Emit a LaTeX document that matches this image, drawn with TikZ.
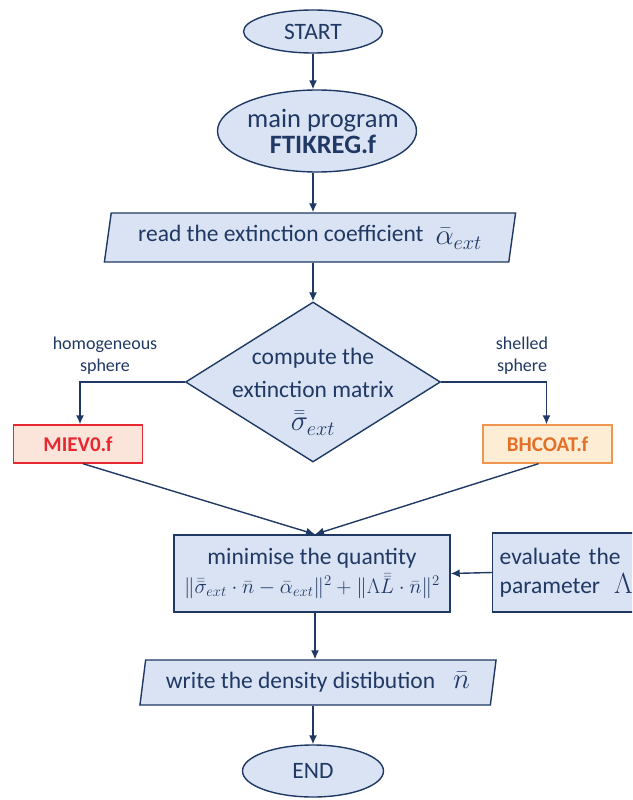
\documentclass[tikz,border=0pt]{standalone}
\usepackage{fix-cm}
\usepackage{amsmath}
\usepackage{fontspec}
\setmainfont{Carlito}
\usetikzlibrary{shapes.geometric,arrows.meta}
\definecolor{navy}{RGB}{31,56,100}
\definecolor{boxfill}{RGB}{218,227,243}
\definecolor{mieline}{RGB}{232,40,48}
\definecolor{miefill}{RGB}{251,228,218}
\definecolor{bhline}{RGB}{240,150,80}
\definecolor{bhfill}{RGB}{253,237,212}
\definecolor{bhtext}{RGB}{228,112,40}
\newcommand{\bigmath}[1]{{\fontsize{29}{33}\selectfont$#1$}}
\begin{document}
\begin{tikzpicture}[x=1pt,y=-1pt,
	every node/.style={text=navy, font=\fontsize{23.5}{31}\selectfont},
	term/.style={ellipse, draw=navy, fill=boxfill, line width=1.4pt, inner sep=0pt},
	iobox/.style={trapezium, trapezium left angle=76, trapezium right angle=104,
		trapezium stretches=true, draw=navy, fill=boxfill, line width=1.4pt, inner sep=0pt},
	procbox/.style={rectangle, draw=navy, fill=boxfill, line width=1.4pt, inner sep=0pt},
	flow/.style={navy, line width=1.4pt, -{Latex[length=9pt,width=8pt]}},
	side/.style={font=\fontsize{18}{22}\selectfont, align=center}]
	\useasboundingbox (0,0) rectangle (632,800);
	\clip (0,0) rectangle (632,800);
	% terminals and main program
	\node[term, minimum width=139, minimum height=43] (start) at (313,31.5) {START};
	\node[term, minimum width=199, minimum height=82] (main) at (317,131) {};
	\node[align=center, font=\fontsize{26.5}{26}\selectfont] (maintext) at (323,131)
		{main program\\\textbf{FTIKREG.f}};
	% input
	\node[iobox, minimum width=412, minimum height=49] (read) at (310,237.5)
		{read the extinction coefficient\hspace{12pt}\raisebox{-3pt}{\bigmath{\bar{\alpha}_{ext}}}};
	% decision
	\node[diamond, draw=navy, fill=boxfill, line width=1.4pt, inner sep=0pt,
		minimum width=255, minimum height=160] (comp) at (313,382) {};
	\node[align=center, font=\fontsize{23.5}{33}\selectfont] (comptext) at (313,392)
		{compute the\\extinction matrix\\\bigmath{\bar{\bar{\sigma}}_{ext}}};
	\node[side] (homo) at (105,356) {homogeneous\\sphere};
	\node[side] (shell) at (522,356) {shelled\\sphere};
	% subroutines
	\node[rectangle, draw=mieline, fill=miefill, line width=1.4pt, minimum width=129,
		minimum height=38, text=mieline, font=\fontsize{21}{24}\selectfont\bfseries] (miev) at (78,444) {MIEV0.f};
	\node[rectangle, draw=bhline, fill=bhfill, line width=1.4pt, minimum width=129,
		minimum height=38, text=bhtext, font=\fontsize{21}{24}\selectfont\bfseries] (bhcoat) at (547.5,444) {BHCOAT.f};
	% minimisation
	\node[procbox, minimum width=276, minimum height=77, align=center] (minq) at (312,573.5)
		{minimise the quantity\\[-2pt]
		{\fontsize{21}{25}\selectfont$\|\bar{\bar{\sigma}}_{ext}\cdot\bar{n}-\bar{\alpha}_{ext}\|^2+\|\Lambda\bar{\bar{L}}\cdot\bar{n}\|^2$}};
	\node[procbox, minimum width=170, minimum height=79, align=left, anchor=west,
		text width=156] (eval) at (492,572.5)
		{evaluate the\\[-2pt]parameter\hspace{14pt}\bigmath{\Lambda}};
	% output
	\node[iobox, minimum width=357, minimum height=45] (write) at (318,682.5)
		{write the density distibution\hspace{18pt}\bigmath{\bar{n}}};
	\node[term, minimum width=141, minimum height=52] (end) at (313,771) {END};
	% connectors
	\draw[flow] (start.south) -- (start.south |- main.north);
	\draw[flow] (start.south |- main.south) -- (start.south |- read.north);
	\draw[flow] (comp.north |- read.south) -- (comp.north);
	\draw[flow] (comp.west) -| ([xshift=2]miev.north);
	\draw[flow] (comp.east) -| ([xshift=-1]bhcoat.north);
	\draw[flow] ([xshift=5]miev.south) -- ([xshift=3]minq.north);
	\draw[flow] ([xshift=-9]bhcoat.south) -- ([xshift=3]minq.north);
	\draw[flow] (eval.west) -- (minq.east);
	\draw[flow] ([xshift=3]minq.south) -- ([xshift=3]minq.south |- write.north);
	\draw[flow] (end.north |- write.south) -- (end.north);
\end{tikzpicture}
\end{document}
